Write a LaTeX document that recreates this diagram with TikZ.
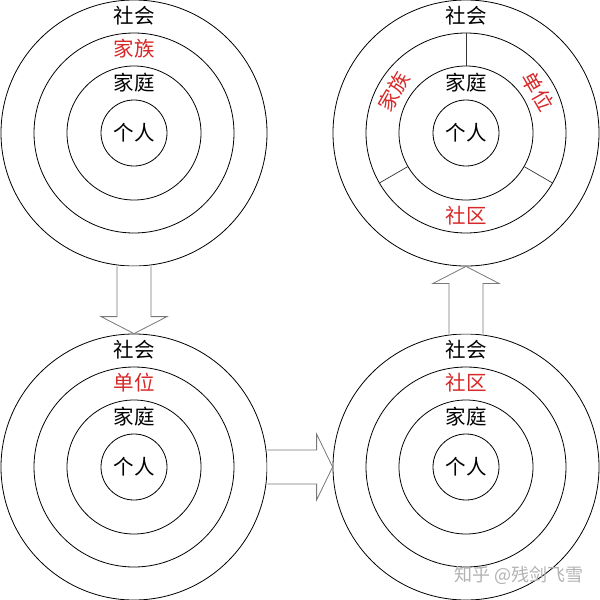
\documentclass[tikz,border=0pt]{standalone}
\usepackage{fontspec}
\newfontfamily\cjk{Noto Sans CJK SC}
\usetikzlibrary{calc}
\definecolor{labred}{RGB}{214,40,40}
\definecolor{arrgray}{RGB}{120,120,120}
\begin{document}
\begin{tikzpicture}[x=1pt,y=-1pt,
  ring/.style={circle,draw=black,line width=0.8pt,inner sep=0pt},
  divider/.style={draw=black!80,line width=0.7pt},
  txt/.style={font=\cjk\fontsize{20.5}{20.5}\selectfont,inner sep=0pt},
  redtxt/.style={txt,text=labred},
  bigarr/.style={draw=arrgray,fill=white,line width=0.8pt,line join=miter},
  wmark/.style={font=\cjk\fontsize{18}{18}\selectfont,text=black!30,inner sep=0pt}]
\useasboundingbox (0,0) rectangle (600,600);
% top-left
\node[ring,minimum size=266pt] (A4) at (134,133) {};
\node[ring,minimum size=200pt] (A3) at (134,133) {};
\node[ring,minimum size=134pt] (A2) at (134,133) {};
\node[ring,minimum size=66pt,txt] (A1) at (134,133) {个人};
\node[txt] (A4t) at ($(A1)+(0,-117)$) {社会};
\node[redtxt] (A3t) at ($(A1)+(0,-84)$) {家族};
\node[txt] (A2t) at ($(A1)+(0,-50)$) {家庭};
% top-right
\node[ring,minimum size=266pt] (B4) at (466,133) {};
\node[ring,minimum size=200pt] (B3) at (466,133) {};
\node[ring,minimum size=134pt] (B2) at (466,133) {};
\node[ring,minimum size=66pt,txt] (B1) at (466,133) {个人};
\node[txt] (B4t) at ($(B1)+(0,-117)$) {社会};
\node[txt] (B2t) at ($(B1)+(0,-50)$) {家庭};
\path[divider] (B2.90) -- (B3.90);
\path[divider] (B2.210) -- (B3.210);
\path[divider] (B2.330) -- (B3.330);
\node[redtxt,rotate=60] (B3a) at ($(B1)+(-72,-41.5)$) {家族};
\node[redtxt,rotate=-60] (B3b) at ($(B1)+(72,-41.5)$) {单位};
\node[redtxt] (B3c) at ($(B1)+(0,83)$) {社区};
% bottom-left
\node[ring,minimum size=266pt] (C4) at (134,467) {};
\node[ring,minimum size=200pt] (C3) at (134,467) {};
\node[ring,minimum size=134pt] (C2) at (134,467) {};
\node[ring,minimum size=66pt,txt] (C1) at (134,467) {个人};
\node[txt] (C4t) at ($(C1)+(0,-117)$) {社会};
\node[redtxt] (C3t) at ($(C1)+(0,-84)$) {单位};
\node[txt] (C2t) at ($(C1)+(0,-50)$) {家庭};
% bottom-right
\node[ring,minimum size=266pt] (D4) at (466,467) {};
\node[ring,minimum size=200pt] (D3) at (466,467) {};
\node[ring,minimum size=134pt] (D2) at (466,467) {};
\node[ring,minimum size=66pt,txt] (D1) at (466,467) {个人};
\node[txt] (D4t) at ($(D1)+(0,-117)$) {社会};
\node[redtxt] (D3t) at ($(D1)+(0,-84)$) {社区};
\node[txt] (D2t) at ($(D1)+(0,-50)$) {家庭};
% arrows
\path[bigarr] ($(A4.south)+(-17,0)$) -- ($(C4.north)+(-17,-17)$) -- ($(C4.north)+(-33,-17)$)
  -- (C4.north) -- ($(C4.north)+(33,-17)$) -- ($(C4.north)+(17,-17)$) -- ($(A4.south)+(17,0)$);
\path[bigarr] ($(C4.east)+(0,-17)$) -- ($(D4.west)+(-16,-17)$) -- ($(D4.west)+(-16,-33)$)
  -- (D4.west) -- ($(D4.west)+(-16,33)$) -- ($(D4.west)+(-16,17)$) -- ($(C4.east)+(0,17)$);
\path[bigarr] ($(D4.north)+(-17,0)$) -- ($(B4.south)+(-17,17)$) -- ($(B4.south)+(-33,17)$)
  -- (B4.south) -- ($(B4.south)+(33,17)$) -- ($(B4.south)+(17,17)$) -- ($(D4.north)+(17,0)$);
% watermark
\node[wmark] (wm) at (519,575) {知乎 @残剑飞雪};
\end{tikzpicture}
\end{document}
